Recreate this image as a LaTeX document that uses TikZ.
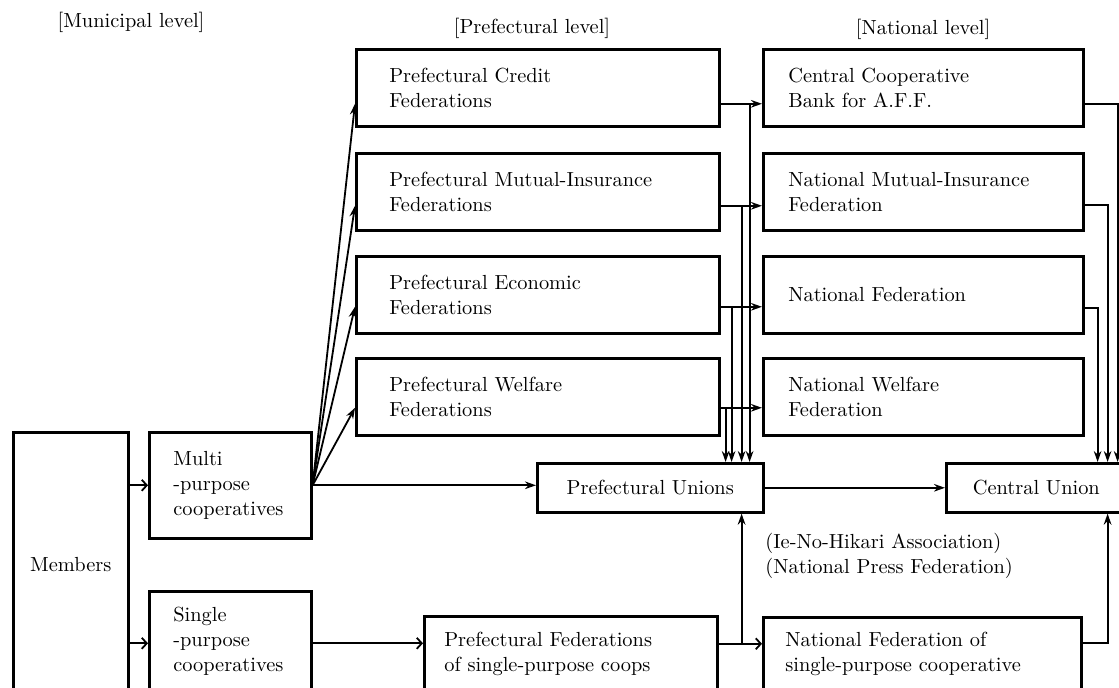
\documentclass[tikz,border=0pt]{standalone}
\usetikzlibrary{arrows.meta}

\begin{document}
\begin{tikzpicture}[x=0.5pt, y=-0.5pt, font=\fontsize{10.2pt}{12.6pt}\selectfont,
  box/.style={draw, line width=1.3pt, anchor=north west, align=left, inner ysep=0pt},
  prefbox/.style={box, text width=148.5pt, inner xsep=16.5pt, minimum height=38.5pt},
  natbox/.style={box, text width=135pt, inner xsep=12.5pt, minimum height=38.5pt},
  coopbox/.style={box, text width=57pt, inner xsep=12pt},
  unionbox/.style={box, align=center, minimum height=24.5pt},
  arr/.style={-{Stealth[length=5.5pt,width=3.8pt]}, line width=0.9pt},
  barb/.style={-{Straight Barb[length=2.5pt,width=5.5pt]}, line width=0.9pt}]
  \clip (0,0) rectangle (1119,688);

  %% Level headings
  \node (munlevel)  at (131,22) {[Municipal level]};
  \node (preflevel) at (532,28) {[Prefectural level]};
  \node (natlevel)  at (923,29) {[National level]};

  %% Municipal level
  \node[box, align=center, minimum width=57.5pt, minimum height=132pt]
    (members) at (12,431) {Members};
  \node[coopbox, minimum height=53pt] (multi) at (148,431)
    {Multi\\-purpose\\cooperatives};
  \node[coopbox, minimum height=50pt] (single) at (148,590)
    {Single\\-purpose\\cooperatives};

  %% Prefectural level
  \node[prefbox] (credit)   at (355,48)  {Prefectural Credit\\Federations};
  \node[prefbox] (mutual)   at (355,152) {Prefectural Mutual-Insurance\\Federations};
  \node[prefbox] (economic) at (355,255) {Prefectural Economic\\Federations};
  \node[prefbox] (welfare)  at (355,357) {Prefectural Welfare\\Federations};
  \node[unionbox, minimum width=113pt] (prefunions) at (536,462) {Prefectural Unions};
  \node[box, text width=126.5pt, inner xsep=10pt, minimum height=37.5pt]
    (prefsingle) at (423,615) {Prefectural Federations\\of single-purpose coops};

  %% National level
  \node[natbox] (bank)       at (762,48)  {Central Cooperative\\Bank for A.F.F.};
  \node[natbox] (natmutual)  at (762,152) {National Mutual-Insurance\\Federation};
  \node[natbox] (natfed)     at (762,255) {National Federation};
  \node[natbox] (natwelfare) at (762,357) {National Welfare\\Federation};
  \node[unionbox, minimum width=90pt] (centralunion) at (945,462) {Central Union};
  \node[box, text width=137pt, inner xsep=11pt, minimum height=37pt]
    (natsingle) at (762,616) {National Federation of\\single-purpose cooperative};
  \node[align=left, anchor=west, inner sep=0pt] (pressnote) at (765,556)
    {(Ie-No-Hikari Association)\\(National Press Federation)};

  %% Members to cooperatives
  \draw[barb] (multi.west -| members.east) -- (multi.west);
  \draw[barb] ([yshift=-1pt]single.west -| members.east) -- ([yshift=-1pt]single.west);

  %% Multi-purpose cooperatives fan out to the federations,
  %% federations feed the national bodies and the prefectural unions
  \draw[arr] (multi.east) -- (multi.east -| prefunions.west);
  \foreach \p/\n/\dx/\dy in {credit/bank/14.5pt/-8pt, mutual/natmutual/10.5pt/-7pt,
                             economic/natfed/5.5pt/-6pt, welfare/natwelfare/2.5pt/-5.5pt}{
    \draw[arr] (multi.east) -- ([yshift=\dy]\p.west);
    \draw[arr] ([yshift=\dy]\p.east) -- ([yshift=\dy]\n.west);
    \coordinate (\p-drop) at ([xshift=\dx,yshift=\dy]\p.east);
    \draw[arr] (\p-drop) -- (\p-drop |- prefunions.north);
  }

  %% National bodies to the Central Union
  \foreach \n/\dx/\dy in {bank/16.5pt/-8pt, natmutual/11.5pt/-6.5pt, natfed/6.5pt/-6.5pt}{
    \coordinate (\n-turn) at ([xshift=\dx,yshift=\dy]\n.east);
    \draw[arr] ([yshift=\dy]\n.east) -- (\n-turn) -- (\n-turn |- centralunion.north);
  }
  \draw[arr] (prefunions.east) -- (centralunion.west);

  %% Single-purpose line
  \draw[barb] ([yshift=-1pt]single.east) -- ([yshift=-1pt]single.east -| prefsingle.west);
  \coordinate (ps) at ([yshift=5pt]prefsingle.east);
  \draw[barb] (ps) -- (ps -| natsingle.west);
  \coordinate (ps-up) at ([xshift=11.5pt]ps);
  \draw[arr] (ps-up) -- (ps-up |- prefunions.south);
  \coordinate (ns-turn) at ([xshift=12.5pt,yshift=5.5pt]natsingle.east);
  \draw[arr] ([yshift=5.5pt]natsingle.east) -- (ns-turn) -- (ns-turn |- centralunion.south);
\end{tikzpicture}
\end{document}
